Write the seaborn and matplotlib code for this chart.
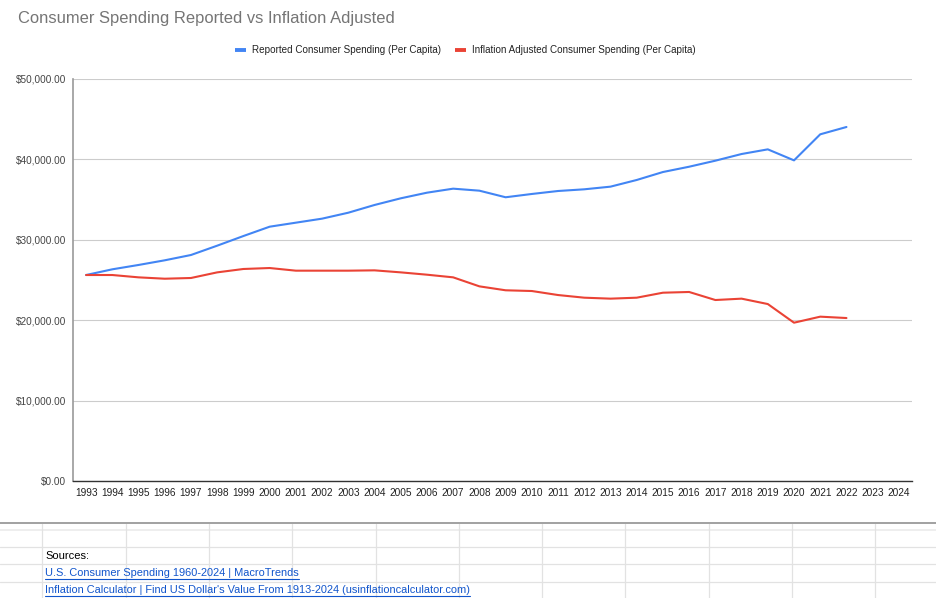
import matplotlib
matplotlib.use("Agg")
import matplotlib.pyplot as plt
import seaborn as sns
import pandas as pd
from matplotlib.lines import Line2D
from matplotlib.ticker import FuncFormatter

years = list(range(1993, 2023))
all_years = list(range(1993, 2025))
reported = [25620, 26330, 26870, 27450, 28110, 29270, 30470, 31630, 32130, 32630,
            33370, 34330, 35160, 35860, 36360, 36110, 35290, 35700, 36070, 36280,
            36610, 37440, 38430, 39090, 39840, 40670, 41250, 39880, 43120, 44030]
adjusted = [25620, 25620, 25330, 25160, 25250, 25950, 26370, 26490, 26160, 26160,
            26160, 26200, 25950, 25660, 25330, 24210, 23720, 23630, 23130, 22800,
            22680, 22800, 23420, 23510, 22510, 22680, 22010, 19690, 20440, 20270]
series_names = ["Reported Consumer Spending (Per Capita)",
                "Inflation Adjusted Consumer Spending (Per Capita)"]
y_ticks = [0, 10000, 20000, 30000, 40000, 50000]
title = "Consumer Spending Reported vs Inflation Adjusted"
sources_label = "Sources:"
links = ["U.S. Consumer Spending 1960-2024 | MacroTrends",
         "Inflation Calculator | Find US Dollar's Value From 1913-2024 (usinflationcalculator.com)"]

df = pd.DataFrame({
    "Year": years * 2,
    "Value": reported + adjusted,
    "Series": [series_names[0]] * len(years) + [series_names[1]] * len(years),
})

sns.set_theme(style="white")
plt.rcParams["font.family"] = ["Liberation Sans", "DejaVu Sans"]

W, H = 936, 598
fig = plt.figure(figsize=(W / 100, H / 100), dpi=100)
ax = fig.add_axes([73 / W, 1 - 481 / H, (912 - 73) / W, (481 - 79) / H])

palette = {series_names[0]: "#4285f4", series_names[1]: "#ea4335"}
sns.lineplot(data=df, x="Year", y="Value", hue="Series", palette=palette,
             linewidth=1.5, ax=ax, legend=False)

ax.set_xlim(all_years[0] - 0.5, all_years[-1] + 0.5)
ax.set_ylim(0, 50000)
ax.set_xticks(all_years)
ax.set_xticklabels([str(y) for y in all_years], fontsize=7.3, color="#222222")
ax.set_yticks(y_ticks)
ax.yaxis.set_major_formatter(FuncFormatter(lambda v, p: f"${v:,.2f}"))
ax.tick_params(axis="y", labelsize=7.2, labelcolor="#444444", length=0, pad=5)
ax.tick_params(axis="x", length=0, pad=5)
ax.set_xlabel("")
ax.set_ylabel("")
ax.grid(axis="y", color="#cccccc", linewidth=0.8)
ax.grid(axis="x", visible=False)
for s in ["top", "right"]:
    ax.spines[s].set_visible(False)
ax.spines["left"].set_color("#999999")
ax.spines["left"].set_linewidth(1.2)
ax.spines["bottom"].set_color("#333333")
ax.spines["bottom"].set_linewidth(1.0)

fig.text(18 / W, 1 - 19 / H, title, fontsize=11.85, color="#757575",
         ha="left", va="center")

handles = [Line2D([0], [0], color=palette[n], lw=2.8, solid_capstyle="butt")
           for n in series_names]
fig.legend(handles, series_names, loc="center", bbox_to_anchor=(465 / W, 1 - 50 / H),
           ncol=2, frameon=False, fontsize=7.15, handlelength=1.1, handletextpad=0.6,
           columnspacing=1.4, labelcolor="#222222")

# spreadsheet area below the chart
def hline(y, x0, x1, color, lw):
    fig.add_artist(Line2D([x0 / W, x1 / W], [1 - y / H, 1 - y / H], color=color, lw=lw,
                          transform=fig.transFigure))

def vline(x, y0, y1, color, lw):
    fig.add_artist(Line2D([x / W, x / W], [1 - y0 / H, 1 - y1 / H], color=color, lw=lw,
                          transform=fig.transFigure))

hline(530, 0, W, "#eeeeee", 1.4)
for y in [547.3, 564.3, 581.7]:
    hline(y, 0, W, "#e2e2e2", 0.9)
for k in range(11):
    vline(42.3 + 83.3 * k, 524, H, "#e2e2e2", 0.9)
hline(523.3, 0, W, "#9a9a9a", 1.3)

fig.text(45 / W, 1 - 556 / H, sources_label, fontsize=8.0, color="#000000",
         ha="left", va="center")
for i, t in enumerate(links):
    fig.text(45 / W, 1 - (573 + 17 * i) / H, t, fontsize=7.9, color="#1155cc",
             ha="left", va="center")
fig.canvas.draw()
renderer = fig.canvas.get_renderer()
for txt in fig.texts:
    if txt.get_color() == "#1155cc":
        bb = txt.get_window_extent(renderer)
        yy = bb.y0 - 0.5
        fig.add_artist(Line2D([bb.x0 / W, bb.x1 / W], [yy / H, yy / H], color="#1155cc",
                              lw=0.8, transform=fig.transFigure))

fig.savefig("out.png", dpi=100)
